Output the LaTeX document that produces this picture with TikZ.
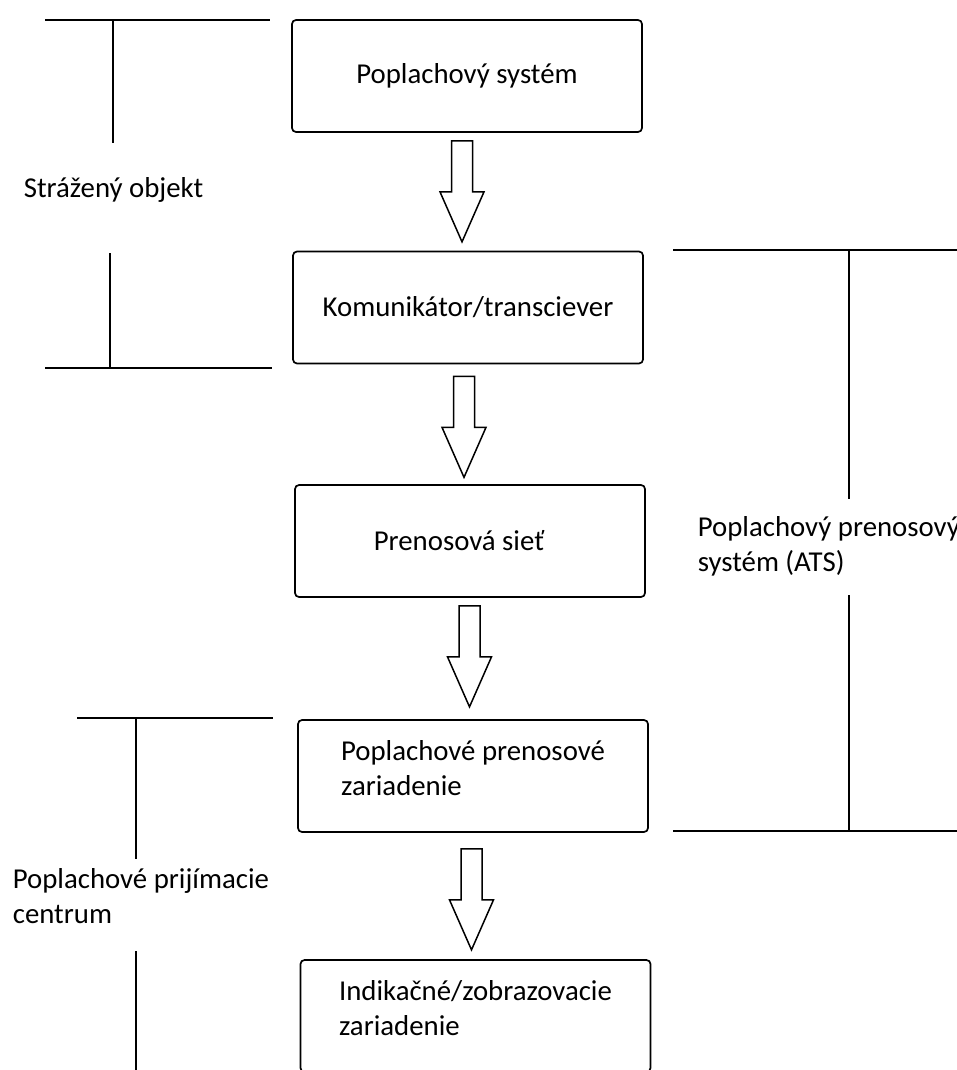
\documentclass[tikz,border=0pt]{standalone}
\usepackage{fontspec}
\setmainfont{Carlito}
\usetikzlibrary{calc}
\begin{document}
\begin{tikzpicture}[x=1pt,y=-1pt,line width=1.7pt,
  box/.style={draw, rounded corners=4pt, minimum width=350pt, minimum height=112pt, inner sep=0pt, font=\fontsize{28.8}{35}\selectfont},
  twoline/.style={align=left, text depth=16pt},
  lbl/.style={inner sep=0pt, font=\fontsize{28.8}{35}\selectfont, align=left},
  bracketline/.style={line width=1.7pt},
  blockarrow/.pic={\draw[line width=1.5pt, line join=miter] (-10.5,0) -- (10.5,0) -- (10.5,51) -- (22,51) -- (0,101) -- (-22,51) -- (-10.5,51) -- cycle;}
]
\useasboundingbox (0,0) rectangle (957,1070);
\clip (0,0) rectangle (957,1070);

% boxes
\node[box] (b1) at (467,76) {Poplachový systém};
\node[box] (b2) at (468,307.5) {Komunikátor/transciever};
\node[box] (b3) at (470,541) {Prenosová sieť\hspace*{22pt}};
\node[box, twoline] (b4) at (473,776) {Poplachové prenosové\\zariadenie};
\node[box, twoline] (b5) at (475.5,1016) {Indikačné/zobrazovacie\\zariadenie};

% block arrows
\pic at ($(b1.south)+(-5,8)$) {blockarrow};
\pic at ($(b2.south)+(-4,12)$) {blockarrow};
\pic at ($(b3.south)+(-0.5,8)$) {blockarrow};
\pic at ($(b4.south)+(-1.5,16)$) {blockarrow};

% labels (base anchor = baseline of the last line)
\node[lbl, anchor=base west] (so) at (23,197) {Strážený objekt};
\node[lbl, anchor=base west] (pc) at (12,923) {Poplachové prijímacie\\centrum};
\node[lbl, anchor=base west] (ats) at (697,571) {Poplachový prenosový\\systém (ATS)};

% brackets
\draw[bracketline] (45,20) -- (270,20);
\draw[bracketline] (113,20) -- (113,143);
\draw[bracketline] (110,253) -- (110,368);
\draw[bracketline] (45,368) -- (272,368);

\draw[bracketline] (77,718) -- (273,718);
\draw[bracketline] (136,718) -- (136,859);
\draw[bracketline] (136,951) -- (136,1075);

\draw[bracketline] (673,250) -- (957,250);
\draw[bracketline] (849,250) -- (849,499);
\draw[bracketline] (849,595) -- (849,831);
\draw[bracketline] (673,831) -- (960,831);
\end{tikzpicture}
\end{document}
